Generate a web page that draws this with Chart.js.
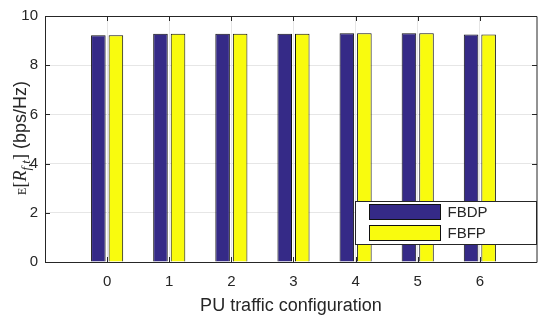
<!DOCTYPE html>
<html>
<head>
<meta charset="utf-8">
<script src="https://cdn.jsdelivr.net/npm/chart.js@4.4.0/dist/chart.umd.min.js"></script>
<style>
html, body { margin: 0; padding: 0; background: #fff; overflow: hidden; }
</style>
</head>
<body>
<canvas id="c" width="538" height="322"></canvas>
<script>
// values
const configs = [0, 1, 2, 3, 4, 5, 6];
const fbdp = [9.22, 9.28, 9.28, 9.28, 9.30, 9.30, 9.25];
const fbfp = [9.22, 9.28, 9.28, 9.28, 9.30, 9.30, 9.25];
const yTicks = [0, 2, 4, 6, 8, 10];
const seriesNames = ['FBDP', 'FBFP'];

const axisColor = '#262626';
const sans = '"Liberation Sans", Arial, sans-serif';
const serif = '"Liberation Serif", "Times New Roman", serif';

// box around the axes with inward tick marks, like matlab
const boxPlugin = {
    id: 'box',
    afterDatasetsDraw(chart) {
        const { ctx, chartArea: a, scales } = chart;
        ctx.save();
        ctx.strokeStyle = axisColor;
        ctx.lineWidth = 1;
        ctx.beginPath();
        ctx.rect(a.left + 0.5, a.top + 0.5, a.right - a.left - 0.5, a.bottom - a.top);
        scales.x.ticks.forEach(t => {
            const px = Math.round(scales.x.getPixelForValue(t.value)) + 0.5;
            ctx.moveTo(px, a.bottom); ctx.lineTo(px, a.bottom - 5);
            ctx.moveTo(px, a.top); ctx.lineTo(px, a.top + 5);
        });
        scales.y.ticks.forEach(t => {
            const py = Math.round(scales.y.getPixelForValue(t.value)) + 0.5;
            ctx.moveTo(a.left, py); ctx.lineTo(a.left + 5, py);
            ctx.moveTo(a.right, py); ctx.lineTo(a.right - 5, py);
        });
        ctx.stroke();
        ctx.restore();
    }
};

// y title: E[R_{f,t}] (bps/Hz), mixed fonts
const yTitlePlugin = {
    id: 'ytitle',
    afterDraw(chart) {
        const { ctx, chartArea: a } = chart;
        const parts = [
            { t: 'E', f: '12px ' + serif, dy: 0 },
            { t: '[', f: '18px ' + serif, dy: 0 },
            { t: 'R', f: 'italic 18px ' + serif, dy: 0 },
            { t: 'f,t', f: 'italic 13px ' + serif, dy: 4 },
            { t: ']', f: '18px ' + serif, dy: 0 },
            { t: ' (bps/Hz)', f: '18px ' + sans, dy: 0 }
        ];
        ctx.save();
        let total = 0;
        parts.forEach(p => { ctx.font = p.f; p.w = ctx.measureText(p.t).width; total += p.w; });
        ctx.translate(26, (a.top + a.bottom) / 2 - 1);
        ctx.rotate(-Math.PI / 2);
        ctx.fillStyle = axisColor;
        ctx.textBaseline = 'alphabetic';
        let x = -total / 2;
        parts.forEach(p => {
            ctx.font = p.f;
            ctx.fillText(p.t, x, p.dy);
            x += p.w;
        });
        ctx.restore();
    }
};

// legend box inside the plot, lower right
const legendPlugin = {
    id: 'boxlegend',
    afterDraw(chart) {
        const { ctx, chartArea: a } = chart;
        const w = 181, h = 43;
        const x0 = Math.round(a.right - 1 - w) + 0.5;
        const y0 = Math.round(a.bottom - 18 - h) + 0.5;
        ctx.save();
        ctx.fillStyle = '#fff';
        ctx.strokeStyle = axisColor;
        ctx.lineWidth = 1;
        ctx.fillRect(x0, y0, w, h);
        ctx.strokeRect(x0, y0, w, h);
        ctx.font = '15px ' + sans;
        ctx.textBaseline = 'middle';
        chart.data.datasets.forEach((ds, i) => {
            const ry = y0 + 3 + i * 21;
            ctx.fillStyle = ds.backgroundColor;
            ctx.fillRect(x0 + 14, ry, 71, 15);
            ctx.strokeStyle = ds.borderColor;
            ctx.strokeRect(x0 + 14, ry, 71, 15);
            ctx.fillStyle = axisColor;
            ctx.fillText(ds.label, x0 + 92, ry + 8);
        });
        ctx.restore();
    }
};

const ctx = document.getElementById('c').getContext('2d');
new Chart(ctx, {
    type: 'bar',
    data: {
        datasets: [
            {
                label: seriesNames[0],
                data: configs.map((c, i) => ({ x: c, y: fbdp[i] })),
                backgroundColor: '#352a87',
                borderColor: '#111111',
                borderWidth: 1
            },
            {
                label: seriesNames[1],
                data: configs.map((c, i) => ({ x: c, y: fbfp[i] })),
                backgroundColor: '#f9fb0e',
                borderColor: '#111111',
                borderWidth: 1
            }
        ]
    },
    options: {
        responsive: false,
        animation: false,
        devicePixelRatio: 1,
        categoryPercentage: 0.565,
        barPercentage: 0.83,
        layout: { padding: { top: 6, right: 1, left: 0, bottom: 0 } },
        plugins: {
            legend: { display: false },
            tooltip: { enabled: false }
        },
        scales: {
            x: {
                type: 'linear',
                min: -1,
                max: 6.92,
                offset: false,
                afterBuildTicks: s => { s.ticks = configs.map(v => ({ value: v })); },
                afterFit: s => { s.height = 60; },
                grid: { color: '#e6e6e6', drawTicks: false, offset: false },
                border: { display: false },
                ticks: { font: { family: sans, size: 15 }, color: axisColor, padding: 11, maxRotation: 0, autoSkip: false },
                title: {
                    display: true,
                    text: 'PU traffic configuration',
                    font: { family: sans, size: 18 },
                    color: axisColor,
                    padding: { top: 0, bottom: 5 }
                }
            },
            y: {
                min: 0,
                max: 10,
                afterBuildTicks: s => { s.ticks = yTicks.map(v => ({ value: v })); },
                afterFit: s => { s.width = 45; },
                grid: { color: '#e6e6e6', drawTicks: false },
                border: { display: false },
                ticks: { font: { family: sans, size: 15 }, color: axisColor, padding: 7 }
            }
        }
    },
    plugins: [boxPlugin, yTitlePlugin, legendPlugin]
});
</script>
</body>
</html>
